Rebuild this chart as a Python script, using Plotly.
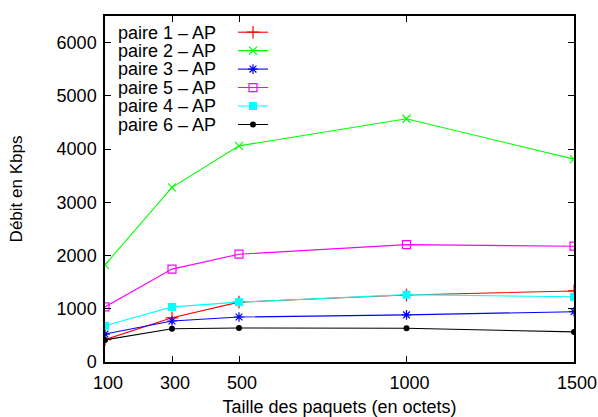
import plotly.graph_objects as go

packet_sizes = [100, 300, 500, 1000, 1500]
series_names = ["paire 1 – AP", "paire 2 – AP", "paire 3 – AP", "paire 5 – AP", "paire 4 – AP", "paire 6 – AP"]
paire1 = [420, 830, 1125, 1260, 1335]
paire2 = [1825, 3280, 4060, 4570, 3810]
paire3 = [525, 770, 845, 885, 945]
paire5 = [1035, 1745, 2025, 2205, 2175]
paire4 = [680, 1035, 1125, 1265, 1225]
paire6 = [415, 625, 640, 635, 565]
x_ticks = [100, 300, 500, 1000, 1500]
y_ticks = [0, 1000, 2000, 3000, 4000, 5000, 6000]

values = [paire1, paire2, paire3, paire5, paire4, paire6]
colors = ["#ff0000", "#00ff00", "#0000ff", "#ff00ff", "#00ffff", "#000000"]
markers = [
    dict(symbol="cross-thin", size=9, line=dict(width=1.2, color="#ff0000")),
    dict(symbol="x-thin", size=8, line=dict(width=1.2, color="#00ff00")),
    dict(symbol="asterisk", size=8, line=dict(width=1.2, color="#0000ff")),
    dict(symbol="square-open", size=8, line=dict(width=1.2, color="#ff00ff")),
    dict(symbol="square", size=8, line=dict(width=0)),
    dict(symbol="circle", size=6, line=dict(width=0)),
]

FONT = "Liberation Sans, Arial, sans-serif"
W, H = 598, 417
L, R, T, B = 105, 24, 16, 55
plot_w = W - L - R
plot_h = H - T - B

fig = go.Figure()
annotations = []
row0, row_gap = 32.5, 18.45
for i, (name, vals, col, mk) in enumerate(zip(series_names, values, colors, markers)):
    legname = "legend" if i == 0 else f"legend{i+1}"
    fig.add_trace(go.Scatter(
        x=packet_sizes, y=vals, name="", mode="lines+markers",
        line=dict(color=col, width=1.1),
        marker=dict(color=col, **mk),
        legend=legname, showlegend=True,
    ))
    ypix = row0 + row_gap * i
    ypaper = (H - B - ypix) / plot_h
    fig.update_layout(**{legname: dict(
        x=(233 - L) / plot_w, xanchor="left",
        y=ypaper, yanchor="middle",
        bgcolor="rgba(0,0,0,0)", borderwidth=0,
        font=dict(family=FONT, size=18, color="black"),
        itemwidth=30, tracegroupgap=0,
    )})
    annotations.append(dict(
        text=name, xref="paper", yref="paper",
        x=(218 - L) / plot_w, xanchor="right",
        y=ypaper, yanchor="middle", showarrow=False,
        font=dict(family=FONT, size=18, color="black"),
    ))

axis_common = dict(
    showgrid=False, zeroline=False, showline=True, linecolor="black", linewidth=1.5,
    mirror="ticks", ticks="inside", ticklen=6, tickwidth=1, tickcolor="black",
    tickfont=dict(family=FONT, size=18, color="black"),
)
fig.update_xaxes(range=[100, 1500], tickvals=x_ticks, ticktext=[str(v) for v in x_ticks],
                 ticklabelstandoff=4, ticklabelshift=3,
                 title=dict(text="Taille des paquets (en octets)", font=dict(family=FONT, size=18, color="black"), standoff=8),
                 **axis_common)
fig.update_yaxes(range=[0, 6500], tickvals=y_ticks, ticktext=[str(v) for v in y_ticks],
                 ticklabelstandoff=3,
                 title=dict(text="Débit en Kbps", font=dict(family=FONT, size=17, color="black"), standoff=30),
                 **axis_common)
fig.update_layout(
    width=W, height=H, margin=dict(l=L, r=R, t=T, b=B, pad=0, autoexpand=False),
    plot_bgcolor="white", paper_bgcolor="white",
    font=dict(family=FONT, size=18, color="black"),
    annotations=annotations,
)
fig.write_html("out.html", config={"displayModeBar": False},
               post_script="document.body.style.margin='0';document.body.style.overflow='hidden';")
